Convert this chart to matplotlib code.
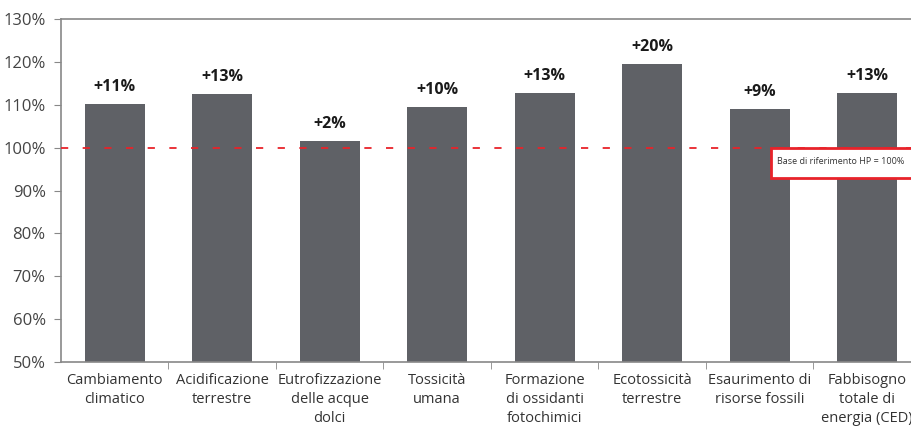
import numpy as np
import matplotlib.pyplot as plt
from matplotlib.patches import Rectangle

categorie = ['Cambiamento\nclimatico', 'Acidificazione\nterrestre', 'Eutrofizzazione\ndelle acque\ndolci',
             'Tossicità\numana', 'Formazione\ndi ossidanti\nfotochimici', 'Ecotossicità\nterrestre',
             'Esaurimento di\nrisorse fossili', 'Fabbisogno\ntotale di\nenergia (CED)']
valori = [110.2, 112.5, 101.6, 109.5, 112.8, 119.5, 109.0, 112.8]
etichette = ['+11%', '+13%', '+2%', '+10%', '+13%', '+20%', '+9%', '+13%']
yticks = [50, 60, 70, 80, 90, 100, 110, 120, 130]

plt.rcParams['font.family'] = ['Open Sans', 'DejaVu Sans']
fig = plt.figure(figsize=(9.12, 4.26), dpi=100)
ax = fig.add_axes([61/912, 1 - 362/426, 860/912, 343/426])

x = np.arange(len(categorie))
ax.bar(x, [v - 50 for v in valori], bottom=50, width=0.56, color='#5f6166', zorder=2)
for xi, v, lab in zip(x, valori, etichette):
    ax.text(xi, v + 3.9, lab, ha='center', va='center', fontsize=11.5, fontweight='bold', color='#1a1a1a')

ax.axhline(100, color='#e8232a', linestyle=(0, (4, 8)), linewidth=1.3, zorder=3)

ax.set_xlim(-0.5, len(categorie) - 0.5)
ax.set_ylim(50, 130)
ax.set_yticks(yticks)
ax.set_yticklabels([f'{t}%' for t in yticks], fontsize=12, color='#444444')
ax.set_xticks(x)
ax.set_xticklabels(categorie, fontsize=10.5, color='#333333', linespacing=1.35)
ax.tick_params(axis='x', length=0, pad=8)
ax.tick_params(axis='y', length=5, color='#888888', pad=6)
ax.set_xticks(np.arange(0.5, len(categorie) - 0.5, 1), minor=True)
ax.tick_params(axis='x', which='minor', length=5, color='#888888')

for s in ['left', 'top', 'bottom']:
    ax.spines[s].set_color('#888888')
    ax.spines[s].set_linewidth(1.2)
ax.spines['right'].set_visible(False)

# riquadro di riferimento
fig.patches.append(Rectangle((771/912, 1 - 178/426), 150/912, 30/426, transform=fig.transFigure,
                             facecolor='white', edgecolor='#e8232a', linewidth=2, zorder=5))
fig.text(777/912, 1 - 162/426, 'Base di riferimento HP = 100%', fontsize=6.5, color='#333333',
         va='center', ha='left', zorder=6)

fig.savefig('out.png', dpi=100)
